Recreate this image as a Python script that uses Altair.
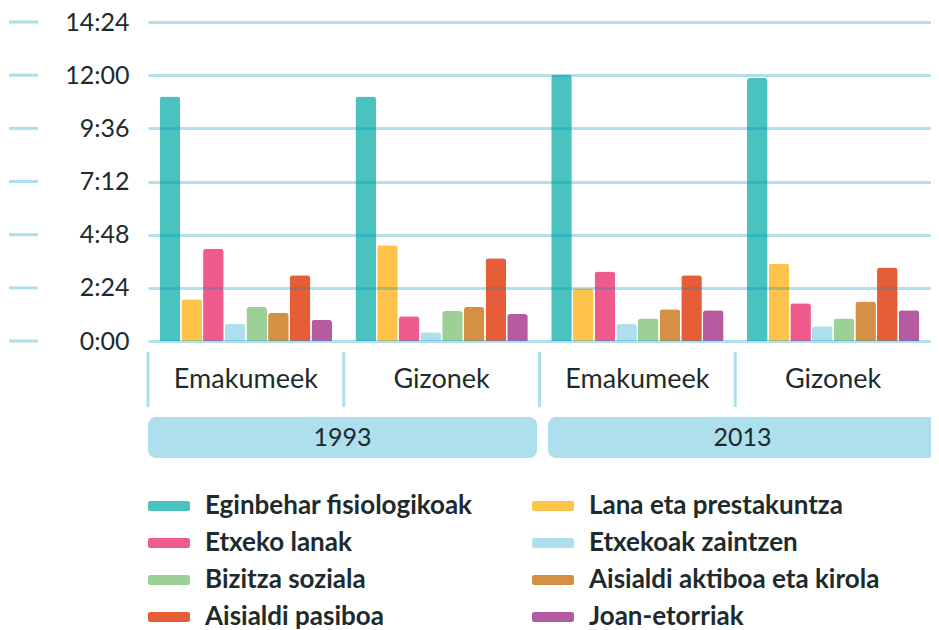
import altair as alt
import pandas as pd

# ---- data ----
years = ["1993", "1993", "2013", "2013"]
sexes = ["Emakumeek", "Gizonek", "Emakumeek", "Gizonek"]
series = [
    "Eginbehar fisiologikoak",
    "Lana eta prestakuntza",
    "Etxeko lanak",
    "Etxekoak zaintzen",
    "Bizitza soziala",
    "Aisialdi aktiboa eta kirola",
    "Aisialdi pasiboa",
    "Joan-etorriak",
]
colors = ["#4ac3c0", "#fec34a", "#f05b8d", "#aedfec",
          "#9cd096", "#d49045", "#e65e38", "#b45ba1"]
# minutes per day, one list per series, in group order (1993 E, 1993 G, 2013 E, 2013 G)
eginbehar = [662, 662, 721, 712]
lana = [113, 259, 143, 210]
etxeko = [250, 67, 188, 102]
zaintzen = [47, 24, 46, 40]
bizitza = [92, 81, 61, 61]
aktiboa = [76, 92, 86, 107]
pasiboa = [178, 224, 178, 199]
joan = [57, 73, 83, 83]
values = [eginbehar, lana, etxeko, zaintzen, bizitza, aktiboa, pasiboa, joan]
y_ticks = [0, 144, 288, 432, 576, 720, 864]
year_labels = ["1993", "2013"]

groups = [f"{y}|{s}" for y, s in zip(years, sexes)]
rows = []
for name, vals in zip(series, values):
    for g, v in zip(groups, vals):
        rows.append({"group": g, "series": name, "minutes": v})
df = pd.DataFrame(rows)
ticks_df = pd.DataFrame({"v": y_ticks})
years_df = pd.DataFrame({"year": year_labels})
groups_df = pd.DataFrame({"group": groups})

# legend is laid out column by column, so order entries to read row by row
legend_order = series[0::2] + series[1::2]
legend_colors = colors[0::2] + colors[1::2]

FONT = "Lato"
DARK = "#1d2b2c"
LIGHT = "#addfec"

legend_path = ("M-0.9,-0.24 L0.9,-0.24 Q1,-0.24 1,-0.14 L1,0.14 Q1,0.24 0.9,0.24 "
               "L-0.9,0.24 Q-1,0.24 -1,0.14 L-1,-0.14 Q-1,-0.24 -0.9,-0.24 Z")

group_x_scale = alt.Scale(domain=groups, paddingInner=0, paddingOuter=0)

bars = alt.Chart(df).mark_bar(cornerRadiusTopLeft=3, cornerRadiusTopRight=3).encode(
    x=alt.X("group:N", sort=groups, scale=group_x_scale,
            axis=alt.Axis(title=None, domain=False, ticks=False,
                          labelExpr="split(datum.label, '|')[1]",
                          labelPadding=38, labelBaseline="middle", labelAngle=0,
                          labelFontSize=27, labelColor=DARK, labelFont=FONT)),
    xOffset=alt.XOffset("series:N", sort=series,
                        scale=alt.Scale(paddingInner=0.05, paddingOuter=0.54)),
    y=alt.Y("minutes:Q",
            scale=alt.Scale(domain=[0, 864], nice=False, zero=True),
            axis=alt.Axis(title=None, values=y_ticks, domain=False, ticks=False,
                          grid=True, gridColor="#0096c0", gridOpacity=0.3, gridWidth=3,
                          labelExpr="floor(datum.value/60) + ':' + (datum.value % 60 < 10 ? '0' : '') + (datum.value % 60)",
                          labelPadding=19, labelFontSize=25, labelColor=DARK,
                          labelFont=FONT, zindex=1)),
    color=alt.Color("series:N",
                    scale=alt.Scale(domain=legend_order, range=legend_colors),
                    legend=alt.Legend(title=None, orient="none", legendX=0, legendY=463,
                                      columns=2, symbolType=legend_path, symbolSize=1764,
                                      symbolStrokeWidth=0, symbolOpacity=1,
                                      labelOffset=15, labelFont=FONT, labelFontSize=26,
                                      labelFontWeight="bold", labelColor=DARK,
                                      labelLimit=400, rowPadding=3, columnPadding=36,
                                      gridAlign="all")),
)

separators = alt.Chart(groups_df).mark_rule(color=LIGHT, strokeWidth=3).encode(
    x=alt.X("group:N", sort=groups, scale=group_x_scale, bandPosition=0),
    y=alt.value(330), y2=alt.value(385),
)

inner = alt.layer(bars, separators)

left_ticks = alt.Chart(ticks_df).mark_rule(color=LIGHT, strokeWidth=3).encode(
    x=alt.value(-139), x2=alt.value(-110),
    y=alt.Y("v:Q", axis=None),
)

year_scale = alt.Scale(domain=year_labels, range=[0, 789], paddingInner=0.0275, paddingOuter=0)
band_1993 = alt.Chart(years_df).transform_filter(
    alt.datum.year == year_labels[0]
).mark_bar(color=LIGHT, cornerRadius=8).encode(
    x=alt.X("year:N", axis=None, scale=year_scale),
    y=alt.value(395), y2=alt.value(436),
)
band_2013 = alt.Chart(years_df).transform_filter(
    alt.datum.year == year_labels[1]
).mark_bar(color=LIGHT, cornerRadiusTopLeft=8, cornerRadiusBottomLeft=8).encode(
    x=alt.X("year:N", axis=None, scale=year_scale),
    y=alt.value(395), y2=alt.value(436),
)
year_text = alt.Chart(years_df).mark_text(font=FONT, fontSize=25, color=DARK,
                                          baseline="middle").encode(
    x=alt.X("year:N", axis=None, scale=year_scale),
    y=alt.value(416),
    text="year:N",
)
years_layer = alt.layer(band_1993, band_2013, year_text)

chart = alt.layer(inner, left_ticks, years_layer).resolve_scale(
    x="independent"
).resolve_axis(y="independent").properties(
    width=783, height=319,
    padding={"left": 140, "top": 14, "right": 0, "bottom": 289},
    autosize=alt.AutoSizeParams(type="none"),
).configure_view(stroke=None)

chart.save("out.html", embed_options={"renderer": "svg", "actions": False})
